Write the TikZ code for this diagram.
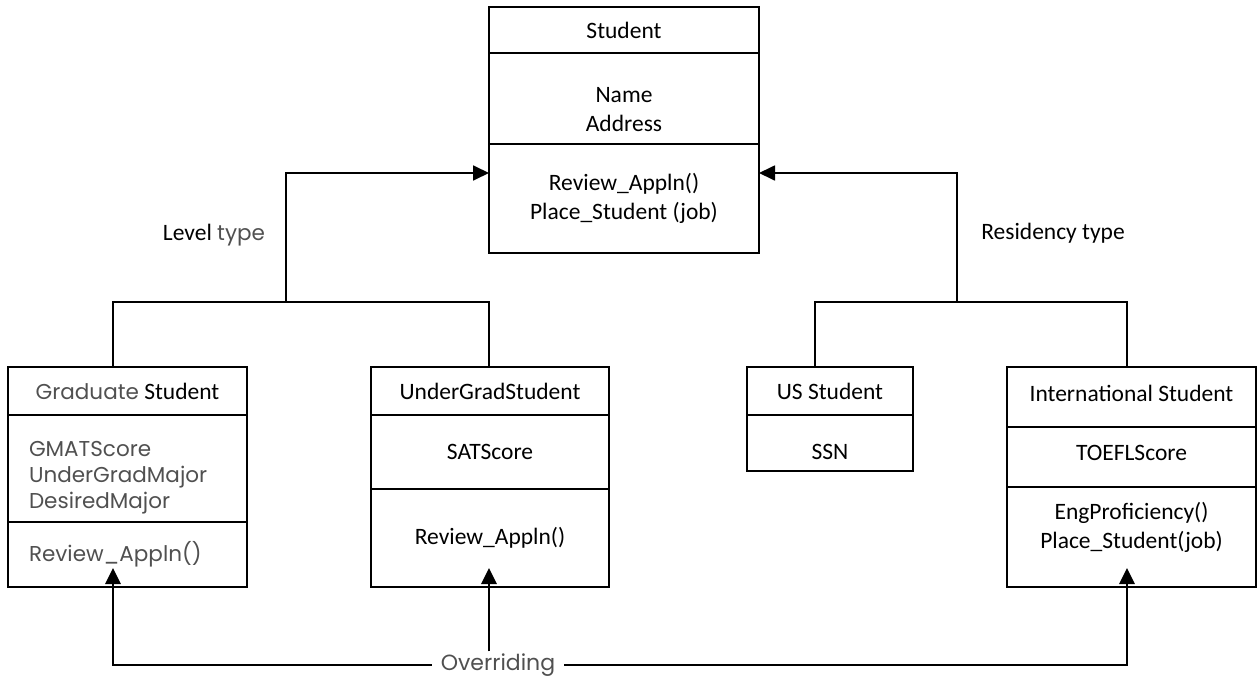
\documentclass[tikz,border=0pt]{standalone}
\usepackage{fontspec}
\setmainfont{Carlito}
\newfontfamily\gothic{Poppins}
\usetikzlibrary{positioning, arrows.meta, calc}
\definecolor{softgray}{RGB}{80,80,80}
\newcommand{\gtxt}[1]{{\gothic\fontsize{21.5}{26}\selectfont\color{softgray}#1}}

\begin{document}
\begin{tikzpicture}[
    x=1pt, y=-1pt,
    font=\fontsize{23.5}{29}\selectfont,
    part/.style={rectangle, draw, line width=1.8pt, inner sep=0pt, outer sep=0pt, align=center},
    gpart/.style={part, align=left, text width=197pt, font=\gothic\fontsize{21.5}{26}\selectfont, text=softgray},
    conn/.style={line width=1.8pt},
    arrow/.style={-{Triangle[length=16pt, width=15pt]}, line width=1.8pt},
    over/.style={-{Triangle[length=16pt, width=15pt]}, line width=2.8pt}
]
    \useasboundingbox (0,0) rectangle (1257,677);

    % base class
    \node[part, minimum width=270pt, minimum height=46pt] (st1) at (624,30) {Student};
    \node[part, minimum width=270pt, minimum height=91pt] (st2) [below=0pt of st1] {\rule{0pt}{37pt}Name\\Address};
    \node[part, minimum width=270pt, minimum height=109pt] (st3) [below=0pt of st2] {Review\_Appln()\\Place\_Student (job)};

    % level subclasses
    \node[part, minimum width=239pt, minimum height=48pt] (gr1) at (127.5,391) {\gtxt{Graduate} Student};
    \node[gpart, minimum width=239pt, minimum height=107pt] (gr2) [below=0pt of gr1] {\rule{0pt}{34pt}GMATScore\\UnderGradMajor\\DesiredMajor};
    \node[gpart, minimum width=239pt, minimum height=65pt] (gr3) [below=0pt of gr2] {Review\_Appln()};

    \node[part, minimum width=238pt, minimum height=48pt] (ug1) at (490,391) {UnderGradStudent};
    \node[part, minimum width=238pt, minimum height=74pt] (ug2) [below=0pt of ug1] {SATScore};
    \node[part, minimum width=238pt, minimum height=98pt] (ug3) [below=0pt of ug2] {Review\_Appln()};

    % residency subclasses
    \node[part, minimum width=166pt, minimum height=48pt] (us1) at (830,391) {US Student};
    \node[part, minimum width=166pt, minimum height=56pt, text height=33pt, text depth=0pt] (us2) [below=0pt of us1] {SSN};

    \node[part, minimum width=249pt, minimum height=60pt, text depth=8pt] (in1) at (1131.5,397) {International Student};
    \node[part, minimum width=249pt, minimum height=60pt, text depth=8pt] (in2) [below=0pt of in1] {TOEFLScore};
    \node[part, minimum width=249pt, minimum height=100pt] (in3) [below=0pt of in2] {EngProficiency()\\Place\_Student(job)\rule[-24pt]{0pt}{1pt}};

    % tap points
    \coordinate (lvl) at (286,173);
    \coordinate (lvlbar) at (286,302);
    \coordinate (gtap) at (113,302);
    \coordinate (utap) at (489,302);
    \coordinate (res) at (957,173);
    \coordinate (resbar) at (957,302);
    \coordinate (stap) at (815,302);
    \coordinate (itap) at (1127,302);

    \draw[conn] (gr1.north -| gtap) -- (gtap) -- (utap) -- (ug1.north -| utap);
    \draw[arrow] (lvlbar) -- (lvl) -- (lvl -| st3.west);
    \draw[conn] (us1.north -| stap) -- (stap) -- (itap) -- (in1.north -| itap);
    \draw[arrow] (resbar) -- (res) -- (res -| st3.east);

    \node (lvltxt) at (214,235) {Level \gtxt{type}};
    \node (restxt) at (1053,233) {Residency type};

    % overriding
    \node[font=\gothic\fontsize{22}{26}\selectfont, text=softgray, inner xsep=9pt, inner ysep=2pt] (ovr) at (498,665) {Overriding};
    \draw[over] (ovr.west) -| ($(gr3.south -| gtap)+(0,-19)$);
    \draw[over] (ovr.north -| utap) -- ($(ug3.south -| utap)+(0,-19)$);
    \draw[over] (ovr.east) -| ($(in3.south -| itap)+(0,-19)$);
\end{tikzpicture}
\end{document}
